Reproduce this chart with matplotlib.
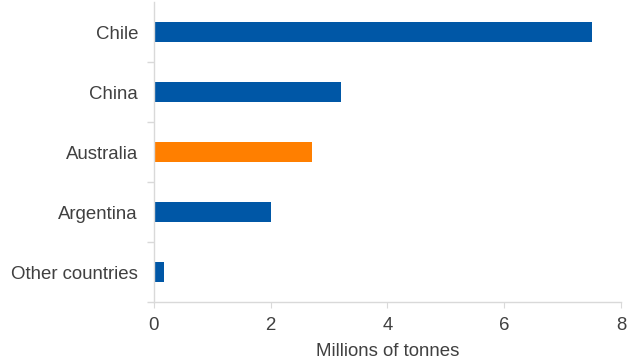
import matplotlib.pyplot as plt
import matplotlib.ticker as mticker

countries = ['Chile', 'China', 'Australia', 'Argentina', 'Other countries']
production = [7.5, 3.2, 2.7, 2.0, 0.17]
bar_colors = ['#0057a6', '#0057a6', '#ff7f00', '#0057a6', '#0057a6']
x_ticks = [0, 2, 4, 6, 8]

plt.rcParams['font.family'] = ['Liberation Sans', 'DejaVu Sans']

fig = plt.figure(figsize=(6.4, 3.64), dpi=100)
ax = fig.add_axes([0.2406, 0.1703, 0.7297, 0.8242])

pos = list(range(len(countries)))
ax.barh(pos, production, height=0.34, color=bar_colors)

ax.set_ylim(len(countries) - 0.5, -0.5)
ax.set_xlim(0, 8)
ax.set_xticks(x_ticks)
ax.set_yticks(pos)
ax.set_yticklabels(countries)
ax.yaxis.set_minor_locator(mticker.FixedLocator([p + 0.5 for p in pos]))

for side in ['top', 'right']:
    ax.spines[side].set_visible(False)
for side in ['left', 'bottom']:
    ax.spines[side].set_color('#d9d9d9')
    ax.spines[side].set_linewidth(1)

ax.tick_params(axis='y', which='major', length=0, pad=11.5, labelsize=13.4, labelcolor='#404040')
ax.tick_params(axis='y', which='minor', length=5, color='#d9d9d9', width=1)
ax.tick_params(axis='x', length=4, color='#d9d9d9', labelsize=13.4, labelcolor='#404040', pad=7)

ax.set_xlabel('Millions of tonnes', fontsize=13.4, color='#404040', labelpad=6)

plt.savefig('out.png', dpi=100)
